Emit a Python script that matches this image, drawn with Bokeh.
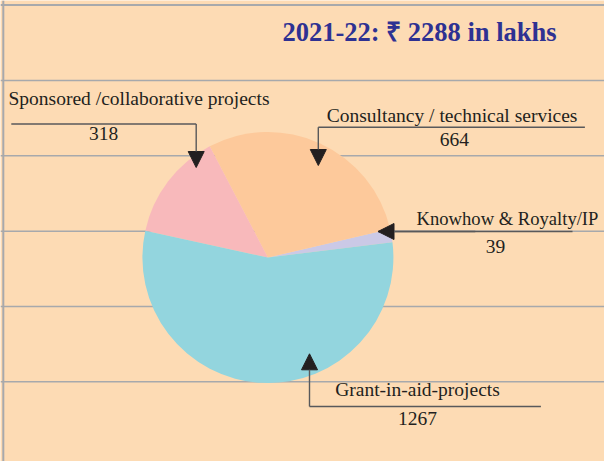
import math
from bokeh.plotting import figure
from bokeh.models import Range1d, Arrow, NormalHead, Span, ColumnDataSource
from bokeh.core.properties import value
from bokeh.embed import file_html
from bokeh.resources import INLINE

# ---- data ----
title_text = "2021-22: ₹ 2288 in lakhs"
categories = ["Knowhow & Royalty/IP",
              "Consultancy / technical services",
              "Sponsored /collaborative projects",
              "Grant-in-aid-projects"]
amounts = [39, 664, 318, 1267]
slice_colors = ["#CBC9E6", "#FDC99B", "#F8B9BB", "#93D5DE"]

# ---- styling / layout ----
BG = "#FDDBB4"
RULE = "#A7A9AC"
LEADER = "#58595B"
HEAD = "#231F20"
FONT = "Liberation Serif"
W, H = 604, 461
def Y(py):
    return H - py

p = figure(width=W, height=H,
           x_range=Range1d(0, W), y_range=Range1d(0, H),
           output_backend="svg", toolbar_location=None,
           x_axis_location=None, y_axis_location=None,
           min_border=0, background_fill_color=BG, border_fill_color=BG,
           outline_line_color=None)
p.grid.visible = False

for ry in [80, 155.3, 230.7, 306, 381.3]:
    p.add_layout(Span(location=Y(ry), dimension="width", line_color=RULE,
                      line_width=1.5, level="underlay"))
# frame border (top and left)
p.add_layout(Span(location=Y(4.5), dimension="width", line_color=RULE,
                  line_width=2, level="underlay"))
p.add_layout(Span(location=2.8, dimension="height", line_color=RULE,
                  line_width=2, level="underlay"))

# pie
total = sum(amounts)
start0 = math.radians(7)
starts, ends = [], []
acc = start0
for a in amounts:
    starts.append(acc)
    acc += a / total * 2 * math.pi
    ends.append(acc)
src = ColumnDataSource(dict(start=starts, end=ends, color=slice_colors,
                            cat=categories, amt=amounts))
p.wedge(x=267.4, y=Y(257), radius=125.5, start_angle="start", end_angle="end",
        fill_color="color", line_color=None, source=src)

# title
p.text(x=[419], y=[Y(31.5)], text=[title_text], text_font=value(FONT),
       text_font_style="bold", text_font_size="26.5px", text_color="#2E3192",
       text_align="center", text_baseline="alphabetic")

# labels: (name x, name y, align, size, value x, value y) in page coords
label_layout = [
    (507, 218, "center", "18.6px", 495, 245.5),
    (451.6, 115, "center", "19.5px", 453.8, 139),
    (8, 98, "left", "19.5px", 103, 132.5),
    (417, 389, "center", "19.5px", 417, 417.5),
]
for cat, amt, (nx, ny, al, fs, vx, vy) in zip(categories, amounts, label_layout):
    p.text(x=[nx], y=[Y(ny)], text=[cat], text_font=value(FONT),
           text_font_size=fs, text_color="#231F20", text_align=al,
           text_baseline="alphabetic")
    p.text(x=[vx], y=[Y(vy)], text=[str(amt)], text_font=value(FONT),
           text_font_size="19.5px", text_color="#231F20", text_align="center",
           text_baseline="alphabetic")

# leaders: horizontal part then arrow leg (page coords)
leaders = [
    ((572, 231), (377.5, 231), (377.5, 231)),
    ((584.4, 126.7), (317.8, 126.7), (317.8, 165)),
    ((10.8, 123.5), (195.7, 123.5), (195.7, 167)),
    ((540.4, 406), (309, 406), (309, 353.3)),
]
for a, corner, tip in leaders:
    p.line(x=[a[0], corner[0]], y=[Y(a[1]), Y(corner[1])], line_color=LEADER,
           line_width=1.4)
    if corner == tip:
        corner = ((a[0] + tip[0]) / 2, a[1])
    p.add_layout(Arrow(end=NormalHead(size=16, fill_color=HEAD, line_color=HEAD,
                                      line_width=1),
                       x_start=corner[0], y_start=Y(corner[1]),
                       x_end=tip[0], y_end=Y(tip[1]),
                       line_color=LEADER, line_width=1.4))

open("out.html", "w").write(file_html(p, INLINE))
